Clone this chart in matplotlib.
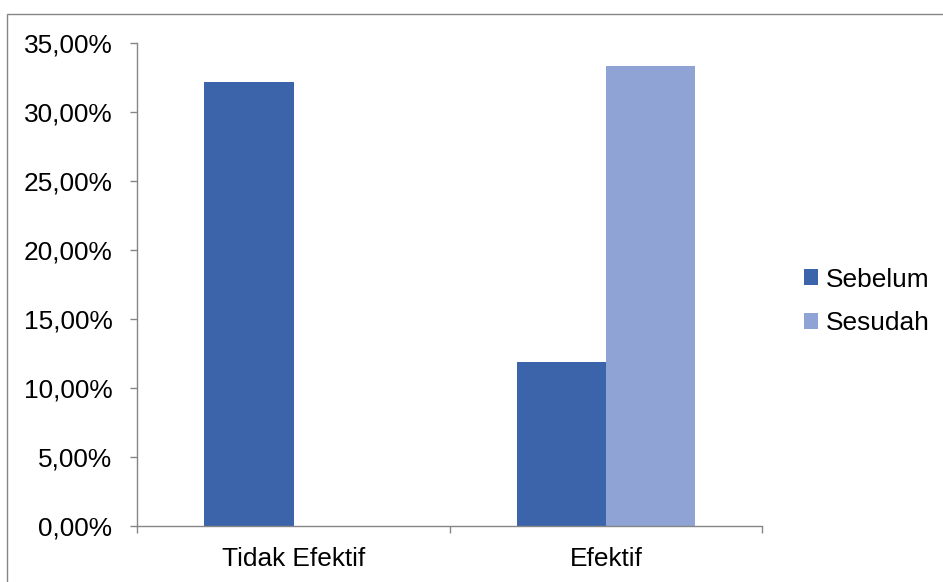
import matplotlib.pyplot as plt
import numpy as np
from matplotlib.patches import Rectangle
from matplotlib.ticker import FuncFormatter, MultipleLocator

plt.rcParams['font.family'] = ['Liberation Sans', 'DejaVu Sans']

categories = ["Tidak Efektif", "Efektif"]
sebelum = [32.13, 11.88]
sesudah = [0.0, 33.33]
series_names = ["Sebelum", "Sesudah"]

AXIS_COLOR = "#868686"
FS = 18.9

fig = plt.figure(figsize=(9.43, 5.82), dpi=100)
ax = fig.add_axes([0.1456, 0.0967, 0.8084 - 0.1456, 0.9266 - 0.0967])

x = np.arange(len(categories))
w = 0.286
ax.bar(x - w / 2, sebelum, w, color="#3C64AB", label=series_names[0])
ax.bar(x + w / 2, sesudah, w, color="#8FA3D4", label=series_names[1])

ax.set_xlim(-0.5, len(categories) - 0.5)
ax.set_ylim(0, 35)
ax.yaxis.set_major_locator(MultipleLocator(5))
ax.yaxis.set_major_formatter(FuncFormatter(lambda v, p: f"{v:.2f}%".replace(".", ",")))

# category labels at centres, tick marks at category boundaries
ax.set_xticks(x)
ax.set_xticklabels(categories)
ax.set_xticks(np.arange(-0.5, len(categories)), minor=True)
ax.tick_params(axis="x", which="major", length=0, pad=15, labelsize=FS)
ax.tick_params(axis="x", which="minor", length=5, color=AXIS_COLOR, width=1)
ax.tick_params(axis="y", length=5, color=AXIS_COLOR, width=1, pad=13, labelsize=FS)

for s in ["top", "right"]:
    ax.spines[s].set_visible(False)
for s in ["left", "bottom"]:
    ax.spines[s].set_color(AXIS_COLOR)
    ax.spines[s].set_linewidth(1)

fig.legend(loc="center left", bbox_to_anchor=(0.8526, 0.482), frameon=False,
           fontsize=FS, handlelength=0.55, handleheight=0.55, handletextpad=0.3,
           labelspacing=0.75, borderpad=0, borderaxespad=0)

# chart area border
fig.patches.append(Rectangle((6.5 / 943, -0.1), 1.2, 0.9768 + 0.1, transform=fig.transFigure,
                             fill=False, edgecolor=AXIS_COLOR, lw=1, clip_on=False))

fig.savefig("out.png", dpi=100)
